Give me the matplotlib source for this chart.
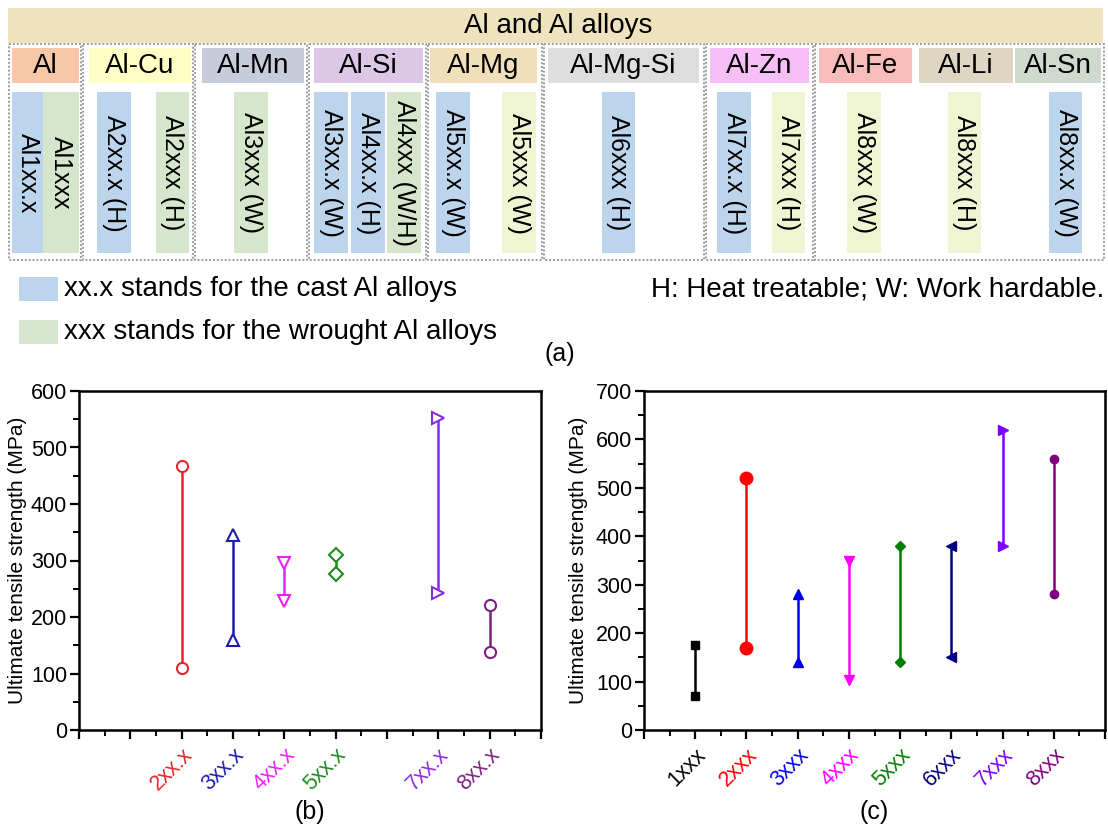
import matplotlib
matplotlib.use('Agg')
import matplotlib.pyplot as plt
from matplotlib.patches import Rectangle
from matplotlib.ticker import MultipleLocator, FixedLocator

plt.rcParams['font.family'] = ['Liberation Sans', 'DejaVu Sans']

# ---------------- data: panel (a) ----------------
title_a = 'Al and Al alloys'
families = ['Al', 'Al-Cu', 'Al-Mn', 'Al-Si', 'Al-Mg', 'Al-Mg-Si', 'Al-Zn',
            'Al-Fe', 'Al-Li', 'Al-Sn']
series = ['Al1xx.x', 'Al1xxx', 'A2xx.x (H)', 'Al2xxx (H)', 'Al3xxx (W)',
          'Al3xx.x (W)', 'Al4xx.x (H)', 'Al4xxx (W/H)', 'Al5xx.x (W)',
          'Al5xxx (W)', 'Al6xxx (H)', 'Al7xx.x (H)', 'Al7xxx (H)',
          'Al8xxx (W)', 'Al8xxx (H)', 'Al8xx.x (W)']
series_kind = ['cast', 'wrought', 'cast', 'wrought', 'wrought', 'cast', 'cast',
               'wrought', 'cast', 'wrought2', 'cast', 'cast', 'wrought2',
               'wrought2', 'wrought2', 'cast']
legend_texts = ['xx.x stands for the cast Al alloys',
                'xxx stands for the wrought Al alloys']
note_text = 'H: Heat treatable; W: Work hardable.'

# ---------------- data: panel (b) cast alloys ----------------
cast_cats = ['2xx.x', '3xx.x', '4xx.x', '5xx.x', '7xx.x', '8xx.x']
cast_pos = [2, 3, 4, 5, 7, 8]
cast_min = [110, 160, 228, 276, 242, 138]
cast_max = [467, 345, 295, 310, 552, 221]

# ---------------- data: panel (c) wrought alloys ----------------
wrought_cats = ['1xxx', '2xxx', '3xxx', '4xxx', '5xxx', '6xxx', '7xxx', '8xxx']
wrought_pos = [1, 2, 3, 4, 5, 6, 7, 8]
wrought_min = [70, 170, 140, 103, 140, 150, 380, 280]
wrought_max = [175, 520, 280, 350, 380, 380, 620, 560]

# ---------------- styles / layout ----------------
banner_color = '#EFE2BF'
family_colors = ['#F7C7A8', '#FFFEC4', '#C8CCDA', '#DCC8E6', '#F0DFBA',
                 '#DEDEDE', '#F8BFF6', '#F8BDBB', '#DED6C2', '#D0D9D0']
kind_colors = {'cast': '#BDD5EC', 'wrought': '#D6E6CC', 'wrought2': '#EFF4D3'}

group_boxes = [(9, 81), (83, 193), (195, 307), (309, 426), (428, 542),
               (544, 704), (706, 813), (815, 1104)]
header_x = [(12, 79), (89, 191), (202, 304), (314, 423), (430, 537),
            (548, 699), (710, 809), (819, 912), (919, 1013), (1015, 1101)]
bar_x = [(12, 43), (43, 79), (97, 131), (156, 189), (234, 268), (314, 348),
         (351, 385), (387, 421), (436, 470), (502, 536), (602, 635),
         (717, 751), (772, 805), (847, 881), (948, 981), (1049, 1082)]

cast_colors = ['#E8242C', '#1C1CB4', '#F020F0', '#1E8A1E', '#8A2BE2', '#7E2080']
cast_markers = ['o', '^', 'v', 'D', '>', 'o']
wrought_colors = ['#000000', '#FF0000', '#0000EE', '#FF00FF', '#008000',
                  '#000080', '#8000FF', '#800080']
wrought_markers = ['s', 'o', '^', 'v', 'D', '<', '>', 'o']
wrought_msize = [5.5, 9, 6.5, 6.5, 5.5, 6.5, 6.5, 6]

W, H = 1108, 825
fig = plt.figure(figsize=(W / 100, H / 100), dpi=100)

# ---------------- panel (a) ----------------
ax0 = fig.add_axes([0, 0, 1, 1])
ax0.set_xlim(0, W)
ax0.set_ylim(H, 0)
ax0.axis('off')

ax0.add_patch(Rectangle((8, 8), 1095, 35, facecolor=banner_color, edgecolor='none'))
ax0.text(558, 26, title_a, ha='center', va='center', fontsize=20)

for (x0, x1) in group_boxes:
    ax0.add_patch(Rectangle((x0, 44), x1 - x0, 216, fill=False,
                            edgecolor='#9C9C9C', lw=1.4, linestyle=(0, (1, 1))))

for name, (x0, x1), col in zip(families, header_x, family_colors):
    ax0.add_patch(Rectangle((x0, 48), x1 - x0, 35, facecolor=col, edgecolor='none'))
    ax0.text((x0 + x1) / 2, 66, name, ha='center', va='center', fontsize=20)

for name, kind, (x0, x1) in zip(series, series_kind, bar_x):
    ax0.add_patch(Rectangle((x0, 92), x1 - x0, 161,
                            facecolor=kind_colors[kind], edgecolor='none'))
    ax0.text((x0 + x1) / 2, 173, name, ha='center', va='center',
             rotation=270, fontsize=18)

for i, (txt, kind) in enumerate(zip(legend_texts, ['cast', 'wrought'])):
    yc = 289 + i * 43
    ax0.add_patch(Rectangle((19, yc - 12), 39, 24, facecolor=kind_colors[kind],
                            edgecolor='none'))
    ax0.text(64, yc, txt, ha='left', va='center', fontsize=20)

ax0.text(1104, 289, note_text, ha='right', va='center', fontsize=20)
ax0.text(560, 354, '(a)', ha='center', va='center', fontsize=18)


def style_axis(ax, ymax, cats, pos, colors, labelpad):
    ax.set_xlim(0, 9)
    ax.set_ylim(0, ymax)
    ax.yaxis.set_major_locator(MultipleLocator(100))
    ax.yaxis.set_minor_locator(MultipleLocator(50))
    ax.xaxis.set_major_locator(FixedLocator(list(range(0, 10))))
    ax.xaxis.set_minor_locator(FixedLocator([i + 0.5 for i in range(9)]))
    labels = [''] * 10
    for c, p in zip(cats, pos):
        labels[p] = c
    ax.set_xticklabels(labels, rotation=45, ha='right', va='top',
                       rotation_mode='anchor', fontsize=15.5)
    for lab, idx in zip(ax.get_xticklabels(), range(10)):
        if idx in pos:
            lab.set_color(colors[pos.index(idx)])
    ax.tick_params(axis='both', which='major', direction='out', length=6.5,
                   width=1.6, top=False, right=False)
    ax.tick_params(axis='y', which='major', labelsize=15.5, pad=2)
    ax.tick_params(axis='both', which='minor', direction='out', length=4,
                   width=1.4, top=False, right=False)
    ax.tick_params(axis='x', which='major', pad=4)
    for s in ax.spines.values():
        s.set_linewidth(1.8)
    ax.set_ylabel('Ultimate tensile strength (MPa)', fontsize=15,
                  labelpad=labelpad)


# ---------------- panel (b) ----------------
axb = fig.add_axes([79 / W, 1 - 730 / H, (541 - 79) / W, (730 - 391) / H])
for p, lo, hi, c, m in zip(cast_pos, cast_min, cast_max, cast_colors, cast_markers):
    ms = 8.5 if m in ('^', 'v', '>') else (7 if m == 'D' else 8)
    axb.plot([p, p], [lo, hi], color=c, lw=1.8, marker=m, ms=ms,
             mfc='white', mec=c, mew=1.5, zorder=3)
style_axis(axb, 600, cast_cats, cast_pos, cast_colors, 3)
fig.text(310 / W, 1 - 812 / H, '(b)', ha='center', va='center', fontsize=18)

# ---------------- panel (c) ----------------
axc = fig.add_axes([644 / W, 1 - 730 / H, (1105 - 644) / W, (730 - 391) / H])
for p, lo, hi, c, m, ms in zip(wrought_pos, wrought_min, wrought_max,
                               wrought_colors, wrought_markers, wrought_msize):
    axc.plot([p, p], [lo, hi], color=c, lw=1.8, marker=m, ms=ms,
             mfc=c, mec=c, zorder=3)
style_axis(axc, 700, wrought_cats, wrought_pos, wrought_colors, 6)
fig.text(874 / W, 1 - 812 / H, '(c)', ha='center', va='center', fontsize=18)

fig.savefig('out.png', dpi=100)
